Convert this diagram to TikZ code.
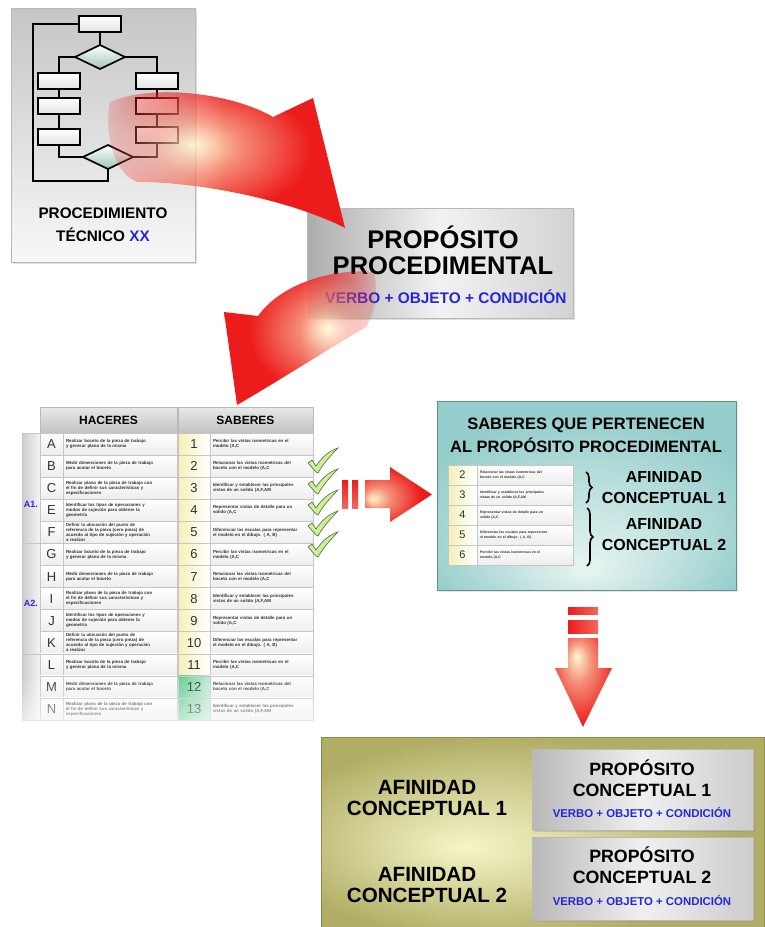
\documentclass[tikz,border=0pt]{standalone}
\usepackage{fontspec}
\setmainfont{Liberation Sans}
\usetikzlibrary{shapes.geometric,fadings,shadows,decorations.pathreplacing}

% colours
\definecolor{vblue}{RGB}{40,40,215}
\definecolor{arrowred}{RGB}{236,28,28}
\definecolor{arrowmid}{RGB}{244,140,118}
\definecolor{glowyel}{RGB}{255,247,205}
\definecolor{tealedge}{RGB}{148,205,203}
\definecolor{tealglow}{RGB}{232,245,242}
\definecolor{oliveedge}{RGB}{176,174,100}
\definecolor{oliveglow}{RGB}{246,245,200}
\definecolor{numyel}{RGB}{245,241,185}
\definecolor{mint}{RGB}{70,196,130}
\definecolor{tickfill}{RGB}{208,236,160}
\definecolor{tickline}{RGB}{70,115,40}
\definecolor{txtgray}{RGB}{50,50,50}
\definecolor{diafill}{RGB}{160,195,185}

% glowing fills
\pgfdeclareradialshading{glowA}{\pgfpoint{-7bp}{4bp}}{color(0bp)=(glowyel); color(9bp)=(arrowmid); color(22bp)=(arrowred); color(50bp)=(arrowred)}
\pgfdeclareradialshading{glowB}{\pgfpoint{9bp}{3bp}}{color(0bp)=(glowyel); color(8bp)=(arrowmid); color(22bp)=(arrowred); color(50bp)=(arrowred)}
\pgfdeclareradialshading{glowright}{\pgfpoint{-20bp}{-4bp}}{color(0bp)=(glowyel); color(10bp)=(arrowmid); color(26bp)=(arrowred); color(50bp)=(arrowred)}
\pgfdeclareradialshading{glowdown}{\pgfpoint{-6bp}{15bp}}{color(0bp)=(glowyel); color(12bp)=(arrowmid); color(30bp)=(arrowred); color(50bp)=(arrowred)}
\pgfdeclareradialshading{tealshade}{\pgfpoint{0bp}{-20bp}}{color(0bp)=(tealglow); color(30bp)=(tealedge); color(50bp)=(tealedge)}
\pgfdeclareradialshading{oliveshade}{\pgfpoint{-9bp}{-4bp}}{color(0bp)=(oliveglow); color(27bp)=(oliveedge); color(50bp)=(oliveedge)}

% fadings
\tikzfading[name=fadefromleft, left color=transparent!85, right color=transparent!0, middle color=transparent!0]
\tikzfading[name=fadetoright, left color=transparent!0, right color=transparent!85, middle color=transparent!0]
\tikzfading[name=fadedown, top color=transparent!100, bottom color=transparent!35]

\newcommand\setfs[2]{\fontsize{#1}{#2}\selectfont\bfseries}

% cell texts
\expandafter\def\csname hactxt1\endcsname{Realizar boceto de la pieza de trabajo\\y generar plano de la misma}
\expandafter\def\csname hactxt2\endcsname{Medir dimensiones de la pieza de trabajo\\para acotar el boceto}
\expandafter\def\csname hactxt3\endcsname{Realizar plano de la pieza de trabajo con\\ el fin de definir sus características y\\especificaciones}
\expandafter\def\csname hactxt4\endcsname{Identificar los tipos de operaciones y\\modos de sujeción para obtener la\\geometría}
\expandafter\def\csname hactxt5\endcsname{Definir la ubicación del punto de\\referencia de la pieza (cero pieza) de\\acuerdo al tipo de sujeción y operación\\ a realizar}
\expandafter\def\csname sabtxt1\endcsname{Percibir las vistas isometricas en el\\modelo (A,C}
\expandafter\def\csname sabtxt2\endcsname{Relacionar las vistas isometricas del\\boceto con el modelo (A,C}
\expandafter\def\csname sabtxt3\endcsname{Identificar y establecer las principales\\vistas de un solido (A,F,AM}
\expandafter\def\csname sabtxt4\endcsname{Representar vistas de detalle para un\\solido (A,C}
\expandafter\def\csname sabtxt5\endcsname{Diferenciar las escalas para representar\\ el modelo en el dibujo. ( A, B)}

\tikzset{
  flowbox/.style={draw=black, line width=1.7pt, top color=white, bottom color=gray!22, minimum width=42pt, minimum height=16pt},
  flowdia/.style={diamond, draw=black, line width=1.7pt, top color=white, bottom color=diafill, minimum width=50pt, minimum height=24pt},
  flowline/.style={line width=1.7pt},
  panel/.style={draw=gray!55, line width=0.5pt, drop shadow={shadow xshift=2pt, shadow yshift=-2pt, opacity=0.25}},
  title/.style={align=center, text=black},
  verbo/.style={text=vblue},
  hdrcell/.style={draw=gray!55, line width=0.5pt, top color=gray!18, bottom color=gray!48, minimum height=26pt, font=\setfs{12}{12}},
  letcell/.style={draw=gray!45, line width=0.5pt, top color=white, bottom color=gray!14, minimum width=23pt, minimum height=22.08pt, text=txtgray, font=\fontsize{13}{13}\selectfont},
  haccell/.style={draw=gray!45, line width=0.5pt, top color=white, bottom color=gray!14, text width=108pt, inner xsep=3pt, minimum height=22.08pt, align=left, text=txtgray, font=\setfs{4.4}{5}},
  numcell/.style={draw=gray!45, line width=0.5pt, left color=numyel, right color=white, minimum width=32pt, minimum height=22.08pt, text=txtgray, font=\fontsize{13}{13}\selectfont},
  greencell/.style={numcell, left color=mint!85!white, right color=mint!35!white},
  sabcell/.style={haccell, text width=97pt},
  grpcell/.style={draw=gray!45, line width=0.5pt, left color=gray!40, right color=gray!8, minimum width=18pt},
  grplabel/.style={text=vblue, font=\setfs{9}{9}},
  tnum/.style={numcell, minimum width=29pt, minimum height=20pt, font=\fontsize{11}{11}\selectfont},
  ttxt/.style={haccell, text width=90pt, minimum height=20pt, font=\setfs{3.5}{4.2}},
  tick/.style={fill=tickfill, draw=tickline, line width=0.6pt},
  vbar/.style={top color=arrowred, bottom color=arrowmid!70!arrowred},
  hbar/.style={left color=arrowred, right color=arrowmid!70!arrowred},
  bracestyle/.style={decorate, decoration={brace, amplitude=6pt}, line width=1.6pt},
}

\begin{document}
\begin{tikzpicture}[x=1pt, y=-1pt, every node/.append style={inner sep=0pt, outer sep=0pt}]
\useasboundingbox (0,0) rectangle (764,927);

% ---------- procedure card with flowchart ----------
\node[panel, top color=gray!45, bottom color=gray!6, minimum width=184pt, minimum height=254pt] (proc) at (103,135) {};
\node[flowbox] (ft) at (100,24) {};
\node[flowdia] (fd1) at (100,57) {};
\node[flowbox] (fl1) at (59,81) {};
\node[flowbox] (fl2) at (59,106) {};
\node[flowbox] (fl3) at (59,137) {};
\node[flowbox] (fr1) at (157,81) {};
\node[flowbox] (fr2) at (157,106) {};
\node[flowbox] (fr3) at (157,135) {};
\node[flowdia] (fd2) at (108,157) {};
\coordinate (lpa) at (33,181);
\coordinate (lpb) at (33,24);
\draw[flowline] (ft) -- (fd1);
\draw[flowline] (fd1.west) -| (fl1.north);
\draw[flowline] (fd1.east) -| (fr1.north);
\draw[flowline] (fl1) -- (fl2);
\draw[flowline] (fl2) -- (fl3);
\draw[flowline] (fr1) -- (fr2);
\draw[flowline] (fr2) -- (fr3);
\draw[flowline] (fl3.south) |- (fd2.west);
\draw[flowline] (fr3.south) |- (fd2.east);
\draw[flowline] (fd2.south) |- (lpa) -- (lpb) -- (ft.west);
\node[title, font=\setfs{15.3}{23}] (proctxt) at (103,225) {PROCEDIMIENTO\\TÉCNICO \textcolor{vblue}{XX}};

% ---------- procedural purpose card ----------
\node[panel, left color=gray!65, right color=gray!35, middle color=gray!10, minimum width=266pt, minimum height=110pt] (prop) at (440,263) {};
\node[title, font=\setfs{25.5}{26}] (proptitle) at (443,250) {PROPÓSITO\\PROCEDIMENTAL};
\node[verbo, font=\setfs{15.4}{16}] (propverbo) at (446,297) {VERBO + OBJETO + CONDICIÓN};

% ---------- curved arrow: procedure -> purpose ----------
\shade[shading=glowA, path fading=fadefromleft]
  (110,102) .. controls (150,84) and (230,92) .. (273,117) -- (313,98) -- (345,228)
  .. controls (290,200) and (200,182) .. (137,182) .. controls (112,172) and (104,130) .. cycle;

% ---------- table of doings and knowledge ----------
\node[hdrcell, minimum width=137pt] (hhac) at (108.5,420) {HACERES};
\node[hdrcell, minimum width=135pt] (hsab) at (245.5,420) {SABERES};
\node[grpcell, minimum height=110.4pt] (grp1) at (31,488.2) {};
\node[grpcell, minimum height=110.4pt] (grp2) at (31,598.6) {};
\node[grpcell, minimum height=66.2pt] (grp3) at (31,686.9) {};
\node[grplabel] (lblA1) at (31,504) {A1.};
\node[grplabel] (lblA2) at (31,603) {A2.};

\foreach \L/\k [count=\i from 0] in {A/1,B/2,C/3,E/4,F/5,G/1,H/2,I/3,J/4,K/5,L/1,M/2,N/3} {
  \pgfmathsetmacro\ym{433+22.08*\i+11.04}
  \pgfmathtruncatemacro\n{\i+1}
  \ifnum\n>11 \def\numsty{greencell}\else\def\numsty{numcell}\fi
  \node[letcell] (let\i) at (51.5,\ym) {\L};
  \node[haccell] (hac\i) at (120,\ym) {\csname hactxt\k\endcsname};
  \node[\numsty] (num\i) at (194,\ym) {\n};
  \node[sabcell] (sab\i) at (261.5,\ym) {\csname sabtxt\k\endcsname};
}

% ticks beside knowledge items 2 to 6
\foreach \yb in {472,493,514,535,556} {
  \filldraw[tick, shift={(316,\yb)}]
    (0,0) -- (-8,-9) -- (-4,-12) -- (0,-6) .. controls (6,-15) and (13,-21) .. (22,-24)
    .. controls (15,-17) and (7,-8) .. (2,1) -- cycle;
}

% the lower rows fade out
\fill[white, path fading=fadedown] (18,674) rectangle (340,726);

% ---------- curved arrow: purpose -> table ----------
\shade[shading=glowB, path fading=fadetoright]
  (374,272) .. controls (330,268) and (280,285) .. (258,316) -- (224,312) -- (237,405)
  .. controls (280,380) and (330,348) .. (366,327) .. controls (376,310) and (378,290) .. cycle;

% ---------- implication arrow to the right ----------
\shade[vbar] (342,480) rectangle (348,508);
\shade[vbar] (352,480) rectangle (358,508);
\shade[shading=glowright] (365,480) -- (390,480) -- (390,467) -- (432,494.5) -- (390,522) -- (390,508) -- (365,508) -- cycle;

% ---------- knowledge grouped by affinity ----------
\node[draw=tealedge!70!black, line width=0.5pt, shading=tealshade, minimum width=299pt, minimum height=189pt, drop shadow={shadow xshift=2pt, shadow yshift=-2pt, opacity=0.2}] (teal) at (586.5,495.5) {};
\node[title, font=\setfs{16.5}{23}] (tealtitle) at (586,435) {SABERES QUE PERTENECEN\\AL PROPÓSITO PROCEDIMENTAL};
\foreach \n/\k [count=\j from 0] in {2/2,3/3,4/4,5/5,6/1} {
  \pgfmathsetmacro\ym{465+20*\j+10}
  \node[tnum] (tn\j) at (462.5,\ym) {\n};
  \node[ttxt] (tt\j) at (525,\ym) {\csname sabtxt\k\endcsname};
}
\coordinate (b1t) at (586,472);
\coordinate (b1b) at (586,503);
\coordinate (b2t) at (587,508);
\coordinate (b2b) at (587,566);
\draw[bracestyle] (b1t) -- (b1b);
\draw[bracestyle] (b2t) -- (b2b);
\node[title, font=\setfs{16}{21}] (afin1) at (664,488) {AFINIDAD\\CONCEPTUAL 1};
\node[title, font=\setfs{16}{21}] (afin2) at (664,535) {AFINIDAD\\CONCEPTUAL 2};

% ---------- implication arrow downwards ----------
\shade[hbar] (568,607) rectangle (598,614);
\shade[hbar] (568,620) rectangle (598,633);
\shade[shading=glowdown] (568,638) -- (598,638) -- (598,668) -- (612,668) -- (583,727) -- (555,668) -- (568,668) -- cycle;

% ---------- conceptual purposes ----------
\node[draw=oliveedge!80!black, line width=0.5pt, shading=oliveshade, minimum width=443pt, minimum height=190pt] (olive) at (542.5,832) {};
\node[title, font=\setfs{20.6}{21}] (oafin1) at (427,798) {AFINIDAD\\CONCEPTUAL 1};
\node[title, font=\setfs{20.6}{21}] (oafin2) at (427,885) {AFINIDAD\\CONCEPTUAL 2};
\node[panel, left color=gray!55, right color=gray!40, middle color=gray!12, minimum width=221pt, minimum height=81pt] (pc1) at (642.5,789.5) {};
\node[panel, left color=gray!55, right color=gray!40, middle color=gray!12, minimum width=221pt, minimum height=83pt] (pc2) at (642.5,878.5) {};
\node[title, font=\setfs{17.8}{20.5}] (pc1t) at (642,778) {PROPÓSITO\\CONCEPTUAL 1};
\node[verbo, font=\setfs{11.4}{12}] (pc1v) at (642,812) {VERBO + OBJETO + CONDICIÓN};
\node[title, font=\setfs{17.8}{20.5}] (pc2t) at (642,865) {PROPÓSITO\\CONCEPTUAL 2};
\node[verbo, font=\setfs{11.4}{12}] (pc2v) at (642,900) {VERBO + OBJETO + CONDICIÓN};
\end{tikzpicture}
\end{document}
